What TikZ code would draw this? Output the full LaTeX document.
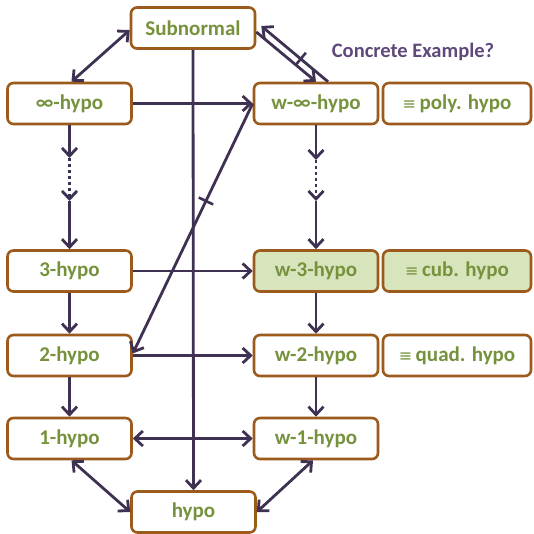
\documentclass[tikz,border=0pt]{standalone}
\usepackage{fontspec}
\setmainfont{Carlito}
\newfontfamily\symfont{DejaVu Sans}
\usetikzlibrary{arrows.meta,calc,decorations.markings}

\definecolor{edge}{HTML}{3F3151}
\definecolor{boxline}{HTML}{9C5A1C}
\definecolor{label}{HTML}{76923C}
\definecolor{shade}{HTML}{D7E4BC}
\definecolor{note}{HTML}{5F497A}

\newcommand{\equivmark}{{\symfont\mdseries\fontsize{16}{16}\selectfont ≡}\,}

\begin{document}
\begin{tikzpicture}[x=1pt,y=-1pt,
  >={Straight Barb[length=8pt,width=15pt]},
  state/.style={draw=boxline, line width=2.6pt, rounded corners=6pt, fill=white,
    minimum width=124pt, minimum height=41pt, inner sep=0pt, text=label,
    font=\fontsize{21}{23}\selectfont\bfseries},
  alias/.style={state, minimum width=148pt},
  lit/.style={fill=shade},
  link/.style={draw=edge, line width=2.8pt},
  gap/.style={link, dash pattern=on 3pt off 3pt},
  negated/.style={postaction={decorate, decoration={markings,
    mark=at position #1 with {\draw[edge, line width=2.6pt, -] (0pt,-8pt) -- (0pt,8pt);}}}},
]
\useasboundingbox (0,0) rectangle (533,534);

% states
\node[state] (sub) at (193,28) {Subnormal};
\node[state] (inf) at (69.5,103.5) {∞-hypo};
\node[state] (winf) at (316,103.5) {w-∞-hypo};
\node[alias] (poly) at (457,103.5) {\equivmark poly. hypo};
\node[state] (three) at (69.5,271) {3-hypo};
\node[state,lit] (wthree) at (316,271) {w-3-hypo};
\node[alias,lit] (cub) at (457,271) {\equivmark cub. hypo};
\node[state] (two) at (69.5,355.5) {2-hypo};
\node[state] (wtwo) at (316,355.5) {w-2-hypo};
\node[alias] (quad) at (457,355.5) {\equivmark quad. hypo};
\node[state] (one) at (69.5,438.5) {1-hypo};
\node[state] (wone) at (316,438.5) {w-1-hypo};
\node[state] (hypo) at (193.5,512) {hypo};

\node[text=note, font=\fontsize{20.5}{22}\selectfont\bfseries] (ce) at (413,52) {Concrete Example?};

% intermediate points of the elided chains
\coordinate (l1) at (69.5,158);
\coordinate (l2) at (69.5,201);
\coordinate (r1) at (316,160);
\coordinate (r2) at (316,201);

% top
\draw[link,<->] ([yshift=-2pt]sub.west) -- ([xshift=2pt]inf.north);
\draw[link,->] ([yshift=-4pt]sub.east) -- (winf.north);
\draw[link,->,negated=0.41] ([xshift=12pt]winf.north) -- ([xshift=5pt,yshift=2pt]sub.east);
\draw[link,->] (sub.south) -- (hypo.north);

% horizontal implications
\draw[link,->] (inf.east) -- (winf.west);
\draw[link,->] (three.east) -- (wthree.west);
\draw[link,->] (two.east) -- (wtwo.west);
\draw[link,<->] (one.east) -- (wone.west);

% diagonal
\draw[link,->,negated=0.39] (winf.west) -- ([yshift=2pt]two.east);

% left column
\draw[link,->] (inf.south) -- (l1);
\draw[gap,->] (l1) -- (l2);
\draw[link,->] (l2) -- (three.north);
\draw[link,->] (three.south) -- (two.north);
\draw[link,->] (two.south) -- (one.north);

% right column
\draw[link,->] (winf.south) -- (r1);
\draw[gap,->] (r1) -- (r2);
\draw[link,->] (r2) -- (wthree.north);
\draw[link,->] (wthree.south) -- (wtwo.north);
\draw[link,->] (wtwo.south) -- (wone.north);

% bottom
\draw[link,<->] ([xshift=2pt]one.south) -- (hypo.west);
\draw[link,<->] ([xshift=-3pt]wone.south) -- (hypo.east);
\end{tikzpicture}
\end{document}
